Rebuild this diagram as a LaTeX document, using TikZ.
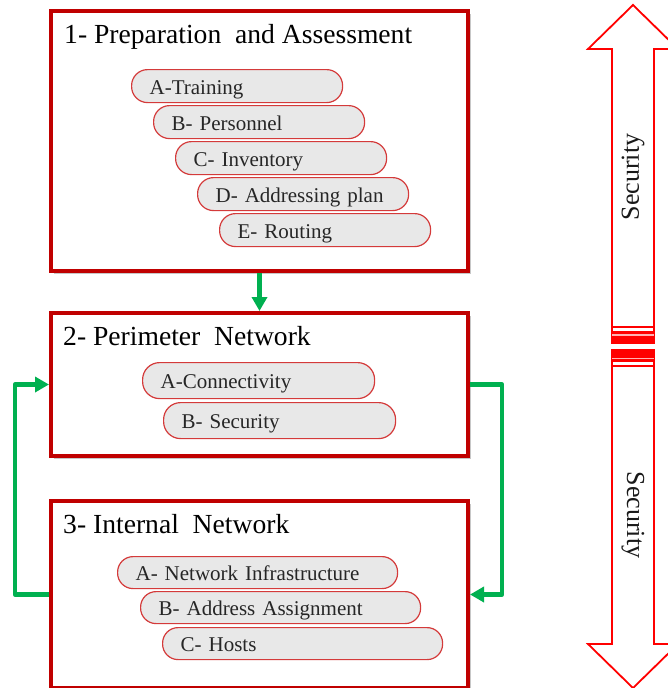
\documentclass[tikz,border=0pt]{standalone}
\usepackage{fontspec}
\setmainfont{Liberation Serif}
\usetikzlibrary{arrows.meta,shadows}

\definecolor{boxred}{HTML}{C00000}
\definecolor{pillred}{HTML}{D43A3A}
\definecolor{pillfill}{HTML}{E8E8E8}
\definecolor{flowgreen}{HTML}{00B050}
\definecolor{secred}{HTML}{FF0000}

\begin{document}
\begin{tikzpicture}[x=1pt,y=-1pt,
  stagebox/.style={draw=boxred, line width=4pt, fill=white, anchor=north west,
    inner sep=0pt, minimum width=417pt,
    drop shadow={shadow xshift=3pt, shadow yshift=-3pt, fill=black, opacity=0.22}},
  stagetitle/.style={anchor=base west, inner sep=0pt, text=black,
    font=\fontsize{27.6}{30}\selectfont},
  pill/.style={draw=pillred, line width=1.2pt, fill=pillfill, anchor=north west,
    inner xsep=18pt, inner ysep=0pt, align=left, text=black!85,
    font=\fontsize{21}{23}\selectfont, text height=16.5pt, text depth=0.5pt},
  pillA/.style={pill, text width=175pt, minimum height=33pt, rounded corners=16pt},
  pillB/.style={pill, text width=196pt, minimum height=36pt, rounded corners=17pt},
  pillC/.style={pill, text width=244pt, minimum height=32pt, rounded corners=15.5pt},
  flow/.style={draw=flowgreen, line width=4.5pt, line join=round,
    -{Triangle[length=14pt,width=15pt]}},
  secarrow/.style={draw=secred, line width=1.8pt, fill=white},
  secband/.style={fill=secred},
  seclabel/.style={inner sep=0pt, text=black!90, font=\fontsize{26}{28}\selectfont},
]
\useasboundingbox (0,0) rectangle (668,688);

% stage boxes
\node[stagebox, minimum height=260pt] (b1) at (49,9) {};
\node[stagebox, minimum height=143pt] (b2) at (49,311) {};
\node[stagebox, minimum height=187pt] (b3) at (49,499) {};

% stage titles
\node[stagetitle] (t1) at (64,43) {1- Preparation~ and Assessment};
\node[stagetitle] (t2) at (63,345) {2- Perimeter~ Network};
\node[stagetitle] (t3) at (63,533) {3- Internal~ Network};

% stage 1 items
\node[pillA] (p1a) at (131,69)  {A-Training};
\node[pillA] (p1b) at (153,105) {B- Personnel};
\node[pillA] (p1c) at (175,141) {C- Inventory};
\node[pillA] (p1d) at (197,177) {D- Addressing plan};
\node[pillA] (p1e) at (219,213) {E- Routing};

% stage 2 items
\node[pillB] (p2a) at (142,362) {A-Connectivity};
\node[pillB] (p2b) at (163,402) {B- Security};

% stage 3 items
\node[pillC] (p3a) at (117,556) {A- Network Infrastructure};
\node[pillC] (p3b) at (140,591) {B- Address Assignment};
\node[pillC] (p3c) at (162,627) {C- Hosts};

% flow between stages
\draw[flow] (b1.south) -- (b2.north);
\draw[flow] (b3.west) -- ++(-34,0) |- (b2.west);
\draw[flow] (b2.east) -- ++(32,0) |- (b3.east);

% security double arrow on the right
\begin{scope}
  \clip (0,0) rectangle (668,688);
  \path[secarrow] (612,343) -- (612,49) -- (588,49) -- (633,5) -- (678,49)
    -- (654,49) -- (654,343) -- cycle;
  \draw[secred, line width=1.2pt] (612,327) -- (654,327);
  \fill[secband] (611,331) rectangle (655,343);
  \draw[white!70!secred, line width=1.2pt] (612,335) -- (654,335);

  \path[secarrow] (612,350) -- (612,644) -- (588,644) -- (633,688) -- (678,644)
    -- (654,644) -- (654,350) -- cycle;
  \draw[secred, line width=1.2pt] (612,366) -- (654,366);
  \fill[secband] (611,350) rectangle (655,362);
  \draw[white!70!secred, line width=1.2pt] (612,358.5) -- (654,358.5);
\end{scope}

\node[seclabel, rotate=90] (s1) at (633,177) {Security};
\node[seclabel, rotate=-90] (s2) at (633,515) {Security};
\end{tikzpicture}
\end{document}
